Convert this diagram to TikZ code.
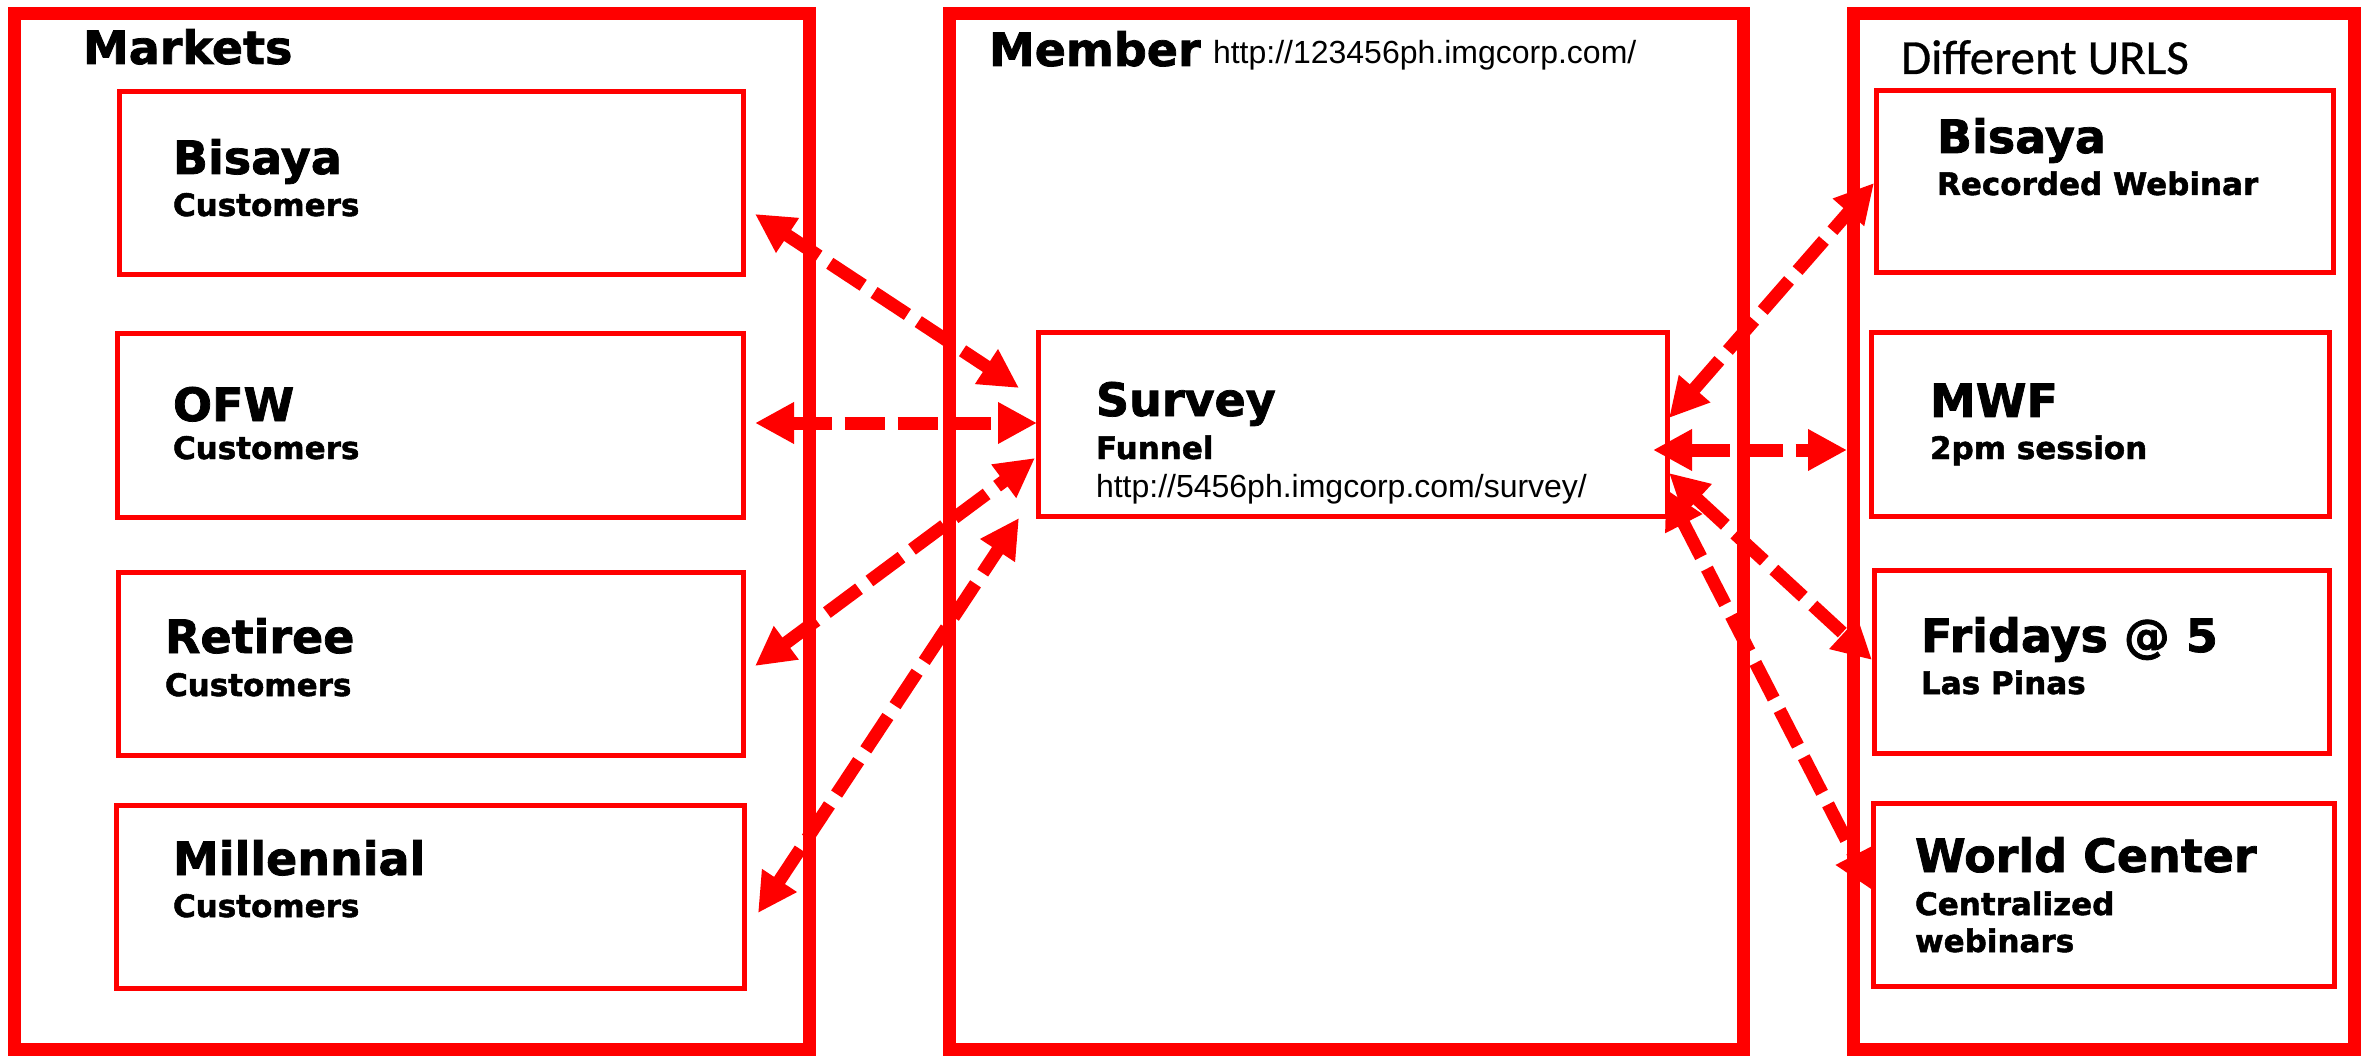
\documentclass[tikz,border=0pt]{standalone}
\usepackage{fontspec}
\setmainfont{DejaVu Sans}[BoldFeatures={FakeBold=1.6}]
\newfontfamily\arialfont{Liberation Sans}
\newfontfamily\calfont{Carlito}[FakeBold=0.6]
\usetikzlibrary{arrows.meta,calc}
\tikzset{
  outerbox/.style={draw=red, line width=13pt, rectangle, inner sep=0pt, outer sep=0pt, minimum height=1035.5pt},
  innerbox/.style={draw=red, line width=5pt, rectangle, inner sep=0pt, outer sep=0pt, minimum height=183pt},
  lbl/.style={anchor=base west, inner sep=0pt, outer sep=0pt, text=black},
  big/.style={lbl, font=\fontsize{46}{50}\selectfont\bfseries},
  small/.style={lbl, font=\fontsize{31}{36}\selectfont\bfseries},
  url/.style={lbl, font=\fontsize{32}{36}\selectfont\arialfont},
  head/.style={lbl, font=\fontsize{49}{54}\selectfont\calfont},
  biarrow/.style={draw=red, line width=13pt, dash pattern=on 40pt off 13pt,
    {Triangle[length=39pt,width=39pt]}-{Triangle[length=39pt,width=39pt]}}
}
\begin{document}
\begin{tikzpicture}[x=1pt,y=-1pt]
\useasboundingbox (0,0) rectangle (2361,1056);
% outer containers
\node[outerbox, minimum width=795.5pt] (markets) at (411.75,531.25) {};
\node[outerbox, minimum width=794pt] (member) at (1346.5,531.25) {};
\node[outerbox, minimum width=501pt] (urls) at (2103.5,531.25) {};
% left boxes
\node[innerbox, minimum width=624pt] (lbis) at (431,183.5) {};
\node[innerbox, minimum width=626pt] (lofw) at (430,425.5) {};
\node[innerbox, minimum width=625pt] (lret) at (430.5,663.5) {};
\node[innerbox, minimum width=628pt] (lmil) at (430,896.5) {};
% survey
\node[innerbox, minimum width=628.5pt] (surv) at (1352.75,424.5) {};
% right boxes
\node[innerbox, minimum width=457pt, minimum height=182pt] (rbis) at (2104.5,182) {};
\node[innerbox, minimum width=458pt] (rmwf) at (2100,424.5) {};
\node[innerbox, minimum width=455pt] (rfri) at (2101.5,661.5) {};
\node[innerbox, minimum width=461pt] (rwc) at (2103.5,894.5) {};
% headings
\node[big] (tmarkets) at (83,64) {Markets};
\node[big] (tmember) at (989,66) {Member};
\node[url] (tmemberurl) at (1213,64) {http://123456ph.imgcorp.com/};
\node[head] (turls) at (1901,74) {Different URLS};
% left labels
\node[big] (tlbis) at (173,174) {Bisaya};
\node[small] (tlbis2) at (173,216) {Customers};
\node[big] (tlofw) at (173,421) {OFW};
\node[small] (tlofw2) at (173,459) {Customers};
\node[big] (tlret) at (165,653) {Retiree};
\node[small] (tlret2) at (165,696) {Customers};
\node[big] (tlmil) at (173,875) {Millennial};
\node[small] (tlmil2) at (173,917) {Customers};
% survey labels
\node[big] (tsurv) at (1096,416) {Survey};
\node[small] (tsurv2) at (1096,459) {Funnel};
\node[url] (tsurv3) at (1096,497) {http://5456ph.imgcorp.com/survey/};
% right labels
\node[big] (trbis) at (1937,153) {Bisaya};
\node[small] (trbis2) at (1937,195) {Recorded Webinar};
\node[big] (trmwf) at (1930,417) {MWF};
\node[small] (trmwf2) at (1930,459) {2pm session};
\node[big] (trfri) at (1921,652) {Fridays @ 5};
\node[small] (trfri2) at (1921,694) {Las Pinas};
\node[big] (trwc) at (1915,872) {World Center};
\node[small] (trwc2) at (1915,915) {Centralized};
\node[small] (trwc3) at (1915,952) {webinars};
% connectors
\draw[biarrow] ($(lbis.east)+(12,30.5)$) -- ($(surv.west)+(-19.5,-36.5)$);
\draw[biarrow] ($(lofw.east)+(12,-2.5)$) -- ($(surv.west)+(-1.5,-1.5)$);
\draw[biarrow] ($(lret.east)+(12,2.5)$) -- ($(surv.west)+(-3.5,33.5)$);
\draw[biarrow] ($(lmil.east)+(14,16.5)$) -- ($(surv.south west)+(-19.5,2)$);
\draw[biarrow] ($(surv.east)+(2,-6.5)$) -- ($(rbis.west)+(-2,1)$);
\draw[biarrow] ($(surv.east)+(-14,25.5)$) -- ($(rmwf.west)+(-24,25.5)$);
\draw[biarrow] ($(surv.east)+(2,48.5)$) -- ($(rfri.west)+(-2,-1.5)$);
\draw[biarrow] ($(surv.east)+(-1,64.5)$) -- ($(rwc.west)+(-1,-4.5)$);
\end{tikzpicture}
\end{document}
